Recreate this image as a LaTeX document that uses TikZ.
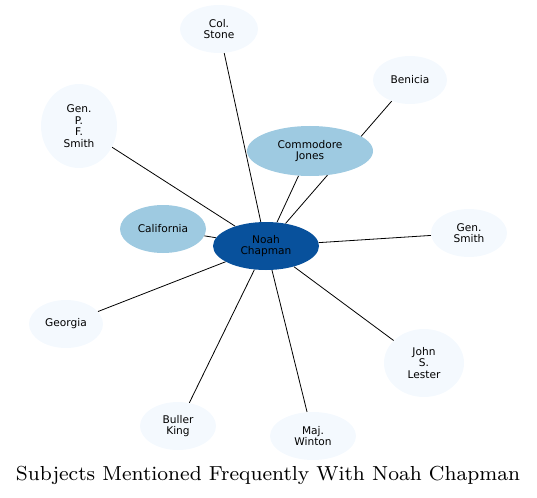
\documentclass[tikz,border=0pt]{standalone}
\usepackage{fontspec}
\newfontfamily\labelfont{DejaVu Sans}
\newfontfamily\titlefont{lmroman8-regular.otf}
\usetikzlibrary{shapes.geometric,backgrounds}
\definecolor{dark}{HTML}{08519C}
\definecolor{mid}{HTML}{9ECAE1}
\definecolor{pale}{HTML}{F4F9FE}
\begin{document}
\begin{tikzpicture}[x=1pt,y=-1pt,
  ent/.style={ellipse,inner sep=0pt,align=center,font=\labelfont\fontsize{10.6}{11.7}\selectfont,text=black},
  edge/.style={draw=black,line width=0.8pt}]
\useasboundingbox (0,0) rectangle (537,497);
\node[ent,fill=dark,minimum width=106,minimum height=48] (noah) at (266,246) {Noah\\Chapman};
\node[ent,fill=mid,minimum width=126,minimum height=50] (cj) at (310,151) {Commodore\\Jones};
\node[ent,fill=mid,minimum width=86,minimum height=48] (cal) at (163,229) {California};
\node[ent,fill=pale,minimum width=78,minimum height=48] (stone) at (219,29) {Col.\\Stone};
\node[ent,fill=pale,minimum width=74,minimum height=48] (ben) at (410,80) {Benicia};
\node[ent,fill=pale,minimum width=76,minimum height=84] (pfs) at (79,126) {Gen.\\P.\\F.\\Smith};
\node[ent,fill=pale,minimum width=76,minimum height=48] (gs) at (469,233) {Gen.\\Smith};
\node[ent,fill=pale,minimum width=74,minimum height=48] (geo) at (66,324) {Georgia};
\node[ent,fill=pale,minimum width=80,minimum height=68] (jsl) at (424,363) {John\\S.\\Lester};
\node[ent,fill=pale,minimum width=76,minimum height=48] (bk) at (178,426) {Buller\\King};
\node[ent,fill=pale,minimum width=86,minimum height=48] (mw) at (313,436) {Maj.\\Winton};
\begin{scope}[on background layer]
\path[edge] (noah) -- (cj);
\path[edge] (noah) -- (ben);
\path[edge] (noah) -- (stone);
\path[edge] (noah) -- (pfs);
\path[edge] (noah) -- (cal);
\path[edge] (noah) -- (gs);
\path[edge] (noah) -- (geo);
\path[edge] (noah) -- (jsl);
\path[edge] (noah) -- (bk);
\path[edge] (noah) -- (mw);
\end{scope}
\node[inner sep=0pt] (title) at (268,475) {\resizebox{504pt}{!}{\titlefont Subjects Mentioned Frequently With Noah Chapman}};
\end{tikzpicture}
\end{document}
